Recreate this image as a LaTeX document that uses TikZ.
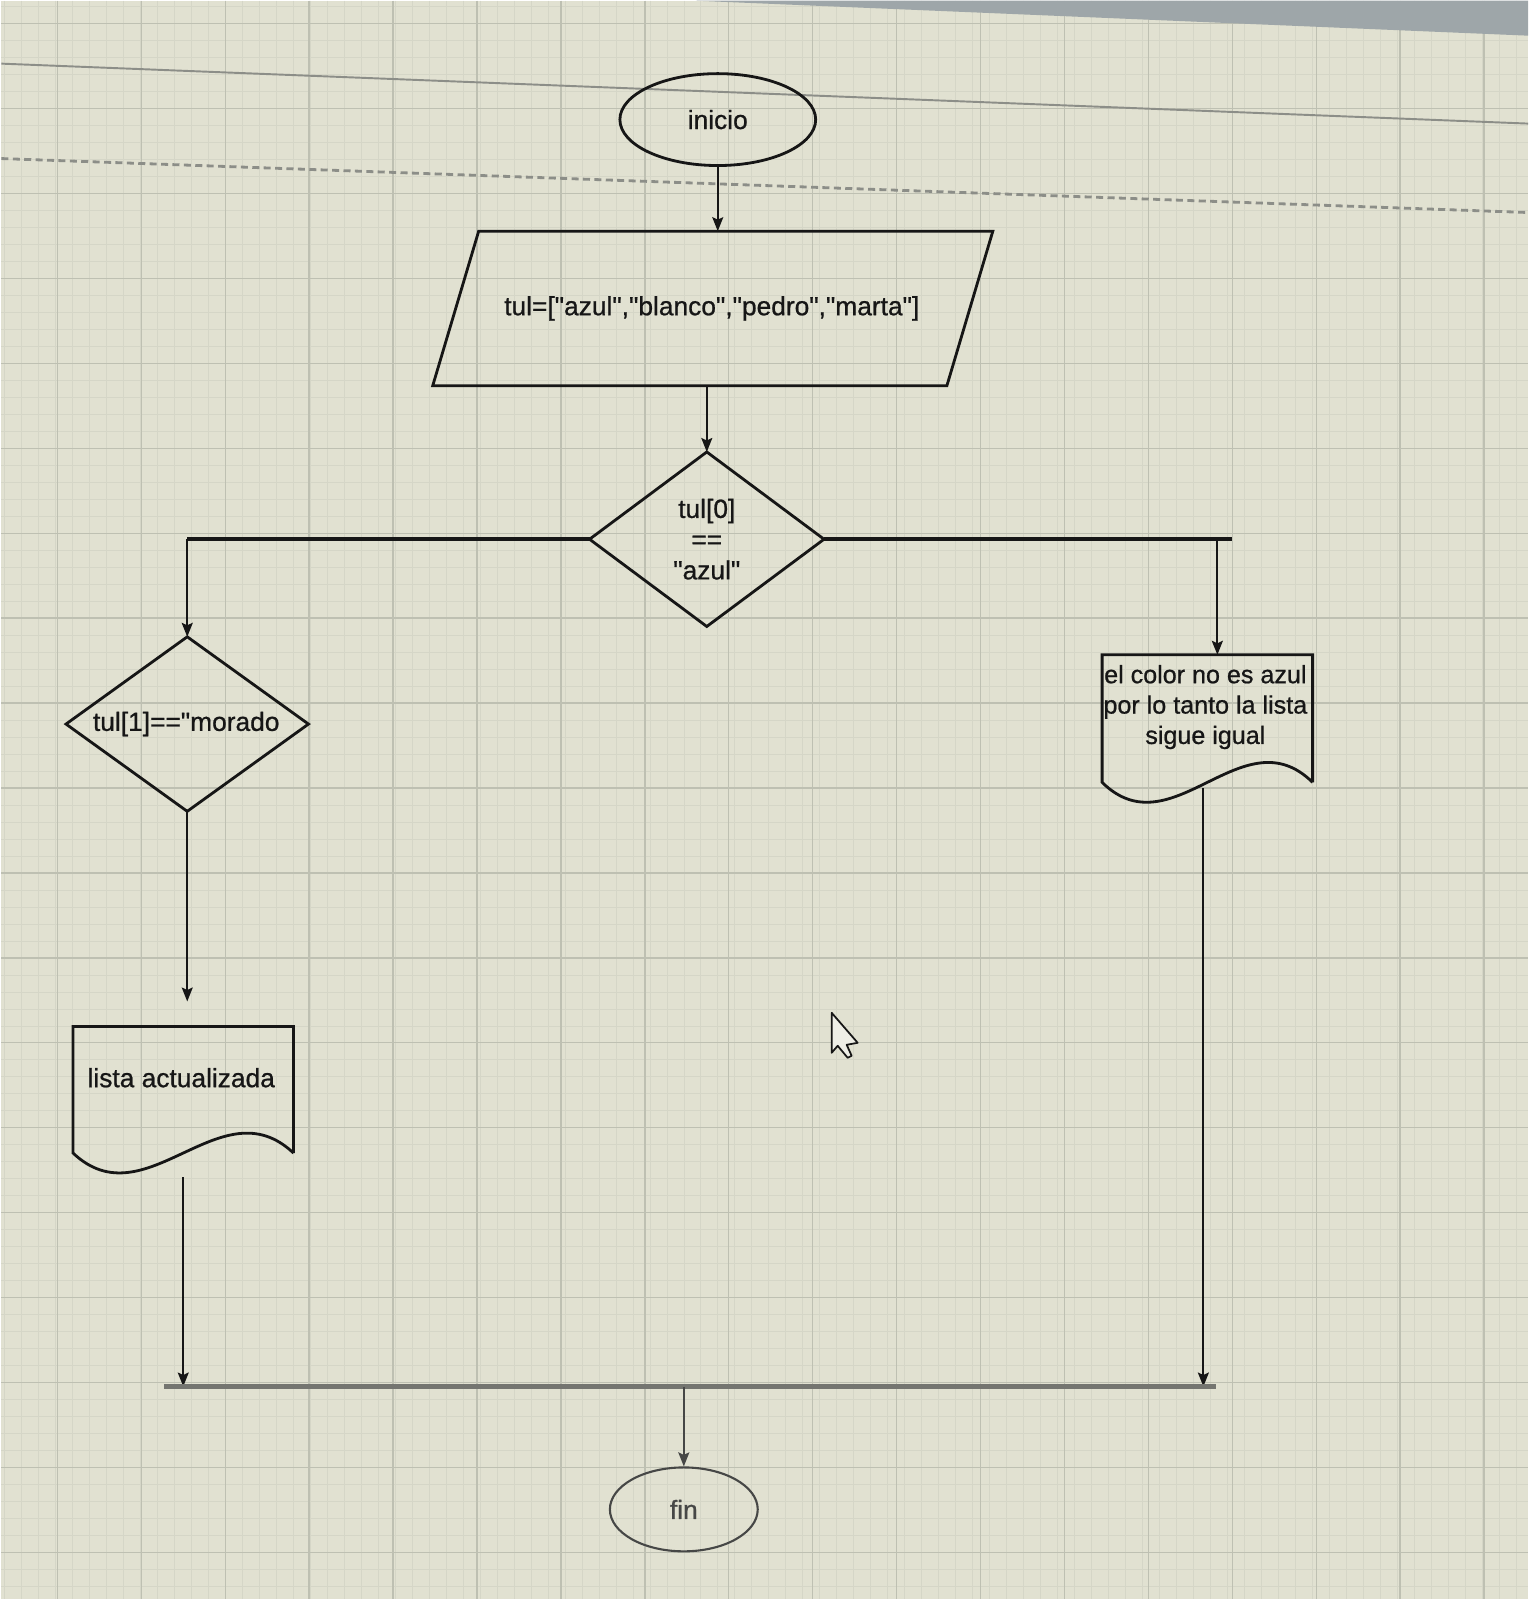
\documentclass[tikz,border=0pt]{standalone}
\usepackage{fontspec}
\setmainfont{Liberation Sans}[Ligatures=TeXOff, FakeBold=0.8]
\usetikzlibrary{shapes.geometric,arrows.meta,calc}

\definecolor{paper}{RGB}{225,225,209}
\definecolor{gridmajor}{RGB}{190,192,178}
\definecolor{gridminor}{RGB}{213,214,199}
\definecolor{bezel}{RGB}{158,166,169}
\definecolor{ink}{RGB}{22,22,22}
\definecolor{softink}{RGB}{70,71,70}
\definecolor{guide}{RGB}{140,142,136}

% document symbol: flat top, wavy bottom drawn over an empty frame node
\newcommand\docoutline[2]{%
  \draw[outline] (#1.south east) -- (#1.north east) -- (#1.north west) -- (#1.south west)
    .. controls ($(#1.south west)+(#2,69)$) and ($(#1.south east)+(-#2,-69)$) .. (#1.south east);}

\begin{document}
\begin{tikzpicture}[x=0.02cm,y=-0.02cm,
  txt/.style={font=\fontsize{15pt}{17.5pt}\selectfont, text=ink, align=center, inner sep=0pt},
  outline/.style={draw=ink, line width=1.6pt, line join=miter},
  frame/.style={rectangle, draw=none, inner sep=0pt},
  term/.style={ellipse, draw=ink, line width=1.6pt, inner sep=0pt,
               font=\fontsize{15pt}{17.5pt}\selectfont, text=ink},
  arr/.style={draw=ink, line width=1.1pt,
              -{Stealth[length=0.28cm,width=0.22cm,inset=0.05cm]}},
  branch/.style={draw=ink, line width=2.4pt},
  merge/.style={draw=softink!70!paper, line width=2.6pt}]

% sheet with grid
\fill[paper] (0,0) rectangle (1528,1600);
\foreach \x in {3,20,...,1528} \draw[gridminor, line width=0.35pt] (\x,0) -- (\x,1600);
\foreach \y in {6,23,...,1600} \draw[gridminor, line width=0.35pt] (0,\y) -- (1528,\y);
\foreach \x in {56,140,...,1528} \draw[gridmajor, line width=0.8pt] (\x,0) -- (\x,1600);
\foreach \y in {23,108,...,1600} \draw[gridmajor, line width=0.8pt] (0,\y) -- (1528,\y);

% page guides
\draw[guide, line width=1.1pt] (0,63) -- (1528,123);
\draw[guide, line width=1.6pt, dash pattern=on 4pt off 2.5pt] (0,158) -- (1528,212);

% screen edge in the upper right corner
\fill[bezel] (695,0) -- (1528,0) -- (1528,35) -- cycle;

% start / end
\node[term, minimum width=3.92cm, minimum height=1.84cm] (inicio) at (717,119) {inicio};
\node[term, draw=softink, line width=1.2pt, minimum width=2.96cm, minimum height=1.68cm,
      text=softink] (fin) at (683,1510) {fin};

% data (parallelogram)
\node[frame, minimum width=11.2cm, minimum height=3.08cm] (para) at (712,308) {};
\draw[outline] (para.south west) -- ([xshift=-0.92cm]para.south east)
  -- (para.north east) -- ([xshift=0.92cm]para.north west) -- cycle;
\node[txt] (paratext) at (711,308) {tul=["azul","blanco","pedro","marta"]};

% decisions
\node[frame, minimum width=4.68cm, minimum height=3.48cm] (d1) at (706,539) {};
\draw[outline] (d1.north) -- (d1.east) -- (d1.south) -- (d1.west) -- cycle;
\node[txt] (d1text) at (706,539) {tul[0]\\==\\"azul"};

\node[frame, minimum width=4.84cm, minimum height=3.48cm] (d2) at (186,724) {};
\draw[outline] (d2.north) -- (d2.east) -- (d2.south) -- (d2.west) -- cycle;
\node[txt] (d2text) at (185,724) {tul[1]=="morado};

% documents
\node[frame, minimum width=4.4cm, minimum height=2.52cm] (doc1) at (182,1090) {};
\docoutline{doc1}{73}
\node[txt] (doc1text) at (180,1078) {lista actualizada};

\node[frame, minimum width=4.2cm, minimum height=2.54cm] (doc2) at (1207,718.5) {};
\docoutline{doc2}{70}
\node[txt, font=\fontsize{14.3pt}{17.3pt}\selectfont] (doc2text) at (1205,707)
  {el color no es azul\\por lo tanto la lista\\sigue igual};

% merge line, branch end and the drop from the right document
\coordinate (mL) at (163,1387);
\coordinate (mR) at (1216,1387);
\coordinate (rend) at (1232,539);
\coordinate (drop) at (1203,788);

% connectors
\draw[arr] (inicio.south) -- (inicio.south |- para.north);
\draw[arr] (d1.north |- para.south) -- (d1.north);

\draw[branch] (d1.west) -- (d1.west -| d2.north);
\draw[arr] (d1.west -| d2.north) -- (d2.north);

\draw[branch] (d1.east) -- (d1.east -| rend);
\draw[arr] ([xshift=0.2cm]d1.east -| doc2.north) -- ([xshift=0.2cm]doc2.north);

\draw[arr, shorten >=0.5cm] (d2.south) -- (d2.south |- doc1.north);
\draw[arr] ([yshift=-0.48cm]doc1.south) -- (doc1.south |- mL);
\draw[arr] (drop) -- (drop |- mR);

\draw[merge] (mL) -- (mR);
\draw[arr, draw=softink] (fin.north |- mL) -- (fin.north);

% mouse pointer
\filldraw[fill=paper!55!white, draw=ink, line width=1pt, line join=round]
  (831,1013) -- (831,1053) -- (837,1046) -- (847,1058) -- (851,1056)
  -- (846,1045) -- (857,1043) -- cycle;
\end{tikzpicture}
\end{document}
